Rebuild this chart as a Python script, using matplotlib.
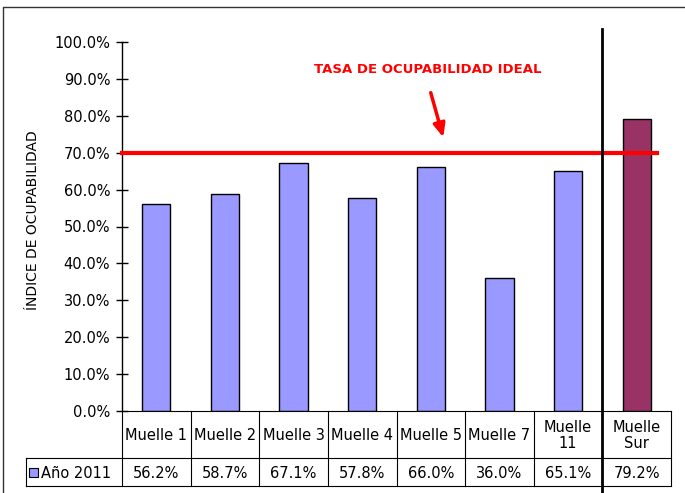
import matplotlib.pyplot as plt
from matplotlib.patches import Rectangle
from matplotlib.lines import Line2D

categories = ["Muelle 1", "Muelle 2", "Muelle 3", "Muelle 4", "Muelle 5", "Muelle 7", "Muelle\n11", "Muelle\nSur"]
values = [0.562, 0.587, 0.671, 0.578, 0.660, 0.360, 0.651, 0.792]
value_labels = ["56.2%", "58.7%", "67.1%", "57.8%", "66.0%", "36.0%", "65.1%", "79.2%"]
series_name = "Año 2011"
ideal_rate = 0.70
yticks = [i / 10 for i in range(11)]

W, H = 685, 493
fig = plt.figure(figsize=(W / 100, H / 100), dpi=100)


def fx(px):
    return px / W


def fy(py):
    return 1 - py / H


left, right, top, bottom = 122, 671, 42, 411
ax = fig.add_axes([fx(left), fy(bottom), fx(right - left), fy(top) - fy(bottom)])

n = len(categories)
colors = ["#9999FF"] * (n - 1) + ["#993366"]
ax.bar(range(n), values, width=0.41, color=colors, edgecolor="black", linewidth=1)
ax.set_xlim(-0.5, n - 0.5)
ax.set_ylim(0, 1)
ax.set_yticks(yticks)
ax.set_yticklabels([f"{t * 100:.1f}%" for t in yticks], fontsize=10.5)
ax.tick_params(axis="y", direction="inout", length=9, width=1, pad=4)
ax.set_xticks([])
for s in ["top", "right", "bottom"]:
    ax.spines[s].set_visible(False)
ax.spines["left"].set_linewidth(1)

# ideal line
ax.plot([-0.5, n - 0.7], [ideal_rate, ideal_rate], color="#FF0000", lw=3, clip_on=False, zorder=5)
ax.text(3.96, 0.925, "TASA DE OCUPABILIDAD IDEAL", color="#FF0000",
        fontsize=9.5, fontweight="bold", ha="center", va="center")
ax.annotate("", xy=(fx(444), fy(140)), xytext=(fx(430), fy(90)),
            xycoords="figure fraction", textcoords="figure fraction",
            arrowprops=dict(arrowstyle="-|>,head_width=0.35,head_length=0.8", color="#FF0000", lw=2.5))

fig.text(fx(33), fy(220), "ÍNDICE DE OCUPABILIDAD", rotation=90, ha="center", va="center", fontsize=10)

# data table
cw = (right - left) / n
row1, row2 = 458, 486
legend_left = 26
lines = [
    (left, right, bottom, bottom),
    (left, right, row1, row1),
    (legend_left, right, row2, row2),
    (legend_left, left, row1, row1),
    (legend_left, legend_left, row1, row2),
    (left, left, bottom, row2),
]
for i in range(1, n + 1):
    lines.append((left + i * cw, left + i * cw, bottom, row2))
for x0, x1, y0, y1 in lines:
    fig.add_artist(Line2D([fx(x0), fx(x1)], [fy(y0), fy(y1)], color="black", lw=0.8))

for i, (cat, lab) in enumerate(zip(categories, value_labels)):
    cx = left + (i + 0.5) * cw
    fig.text(fx(cx), fy((bottom + row1) / 2 + 1), cat, ha="center", va="center",
             fontsize=10.5, linespacing=1.1)
    fig.text(fx(cx), fy((row1 + row2) / 2 + 1), lab, ha="center", va="center", fontsize=10.5)

fig.add_artist(Rectangle((fx(29), fy(477)), fx(9), fy(468) - fy(477), facecolor="#9999FF",
                         edgecolor="black", lw=0.8))
fig.text(fx(41), fy((row1 + row2) / 2 + 1), series_name, ha="left", va="center", fontsize=10.5)

# separator line before Muelle Sur
sx = left + (n - 1) * cw
fig.add_artist(Line2D([fx(sx), fx(sx)], [fy(29), fy(493)], color="black", lw=2))

# outer frame
fig.add_artist(Line2D([fx(3), fx(3), fx(685)], [fy(493), fy(7), fy(7)], color="#333333", lw=1))

fig.savefig("out.png", dpi=100)
